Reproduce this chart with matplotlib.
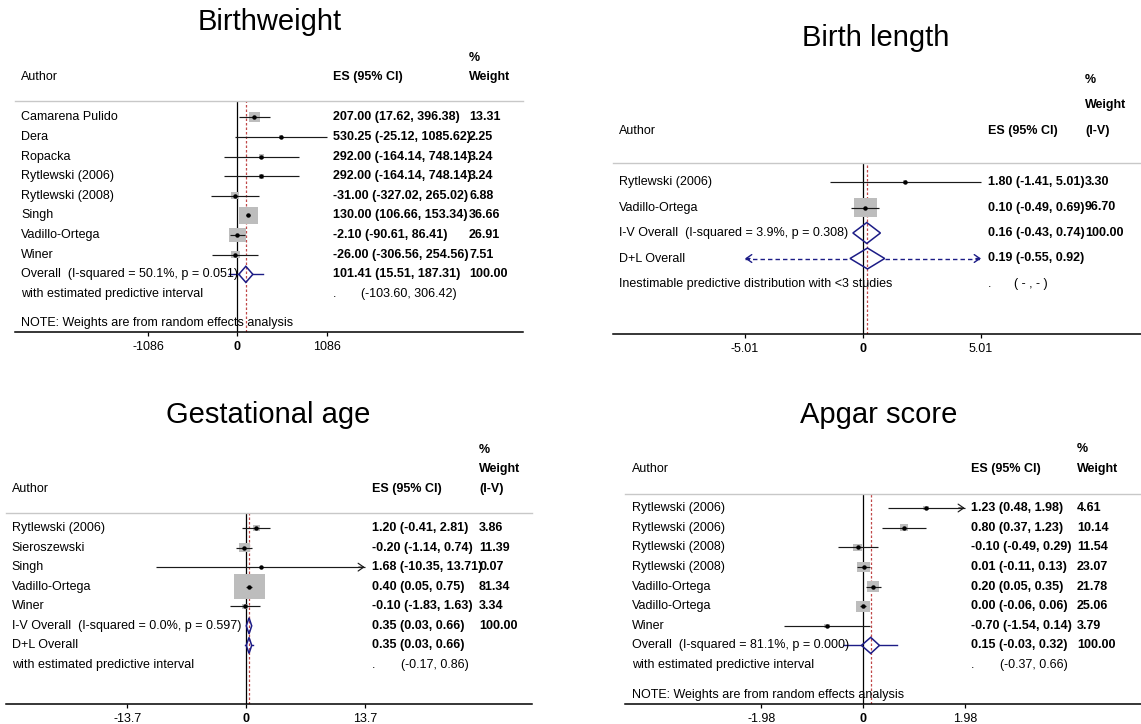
import numpy as np
import matplotlib
matplotlib.use("Agg")
import matplotlib.pyplot as plt
from matplotlib.patches import Rectangle, Polygon
from matplotlib.transforms import blended_transform_factory

plt.rcParams['font.family'] = ['Liberation Sans', 'DejaVu Sans']

# ------------------------------------------------------------------ data
# Birthweight
bw_authors = ["Camarena Pulido", "Dera", "Ropacka", "Rytlewski (2006)", "Rytlewski (2008)",
              "Singh", "Vadillo-Ortega", "Winer"]
bw_es = [207.00, 530.25, 292.00, 292.00, -31.00, 130.00, -2.10, -26.00]
bw_lo = [17.62, -25.12, -164.14, -164.14, -327.02, 106.66, -90.61, -306.56]
bw_hi = [396.38, 1085.62, 748.14, 748.14, 265.02, 153.34, 86.41, 254.56]
bw_wt = [13.31, 2.25, 3.24, 3.24, 6.88, 36.66, 26.91, 7.51]
bw_arrow = [False] * 8
bw_pool_labels = ["Overall  (I-squared = 50.1%, p = 0.051)"]
bw_pool_es = [101.41]
bw_pool_lo = [15.51]
bw_pool_hi = [187.31]
bw_pool_wt = [100.00]
bw_pred_label = "with estimated predictive interval"
bw_pred = [-103.60, 306.42]
bw_ticks = [-1086, 0, 1086]

# Birth length
bl_authors = ["Rytlewski (2006)", "Vadillo-Ortega"]
bl_es = [1.80, 0.10]
bl_lo = [-1.41, -0.49]
bl_hi = [5.01, 0.69]
bl_wt = [3.30, 96.70]
bl_arrow = [False, False]
bl_pool_labels = ["I-V Overall  (I-squared = 3.9%, p = 0.308)", "D+L Overall"]
bl_pool_es = [0.16, 0.19]
bl_pool_lo = [-0.43, -0.55]
bl_pool_hi = [0.74, 0.92]
bl_pool_wt = [100.00, None]
bl_pred_label = "Inestimable predictive distribution with <3 studies"
bl_pred = None
bl_ticks = [-5.01, 0, 5.01]

# Gestational age
ga_authors = ["Rytlewski (2006)", "Sieroszewski", "Singh", "Vadillo-Ortega", "Winer"]
ga_es = [1.20, -0.20, 1.68, 0.40, -0.10]
ga_lo = [-0.41, -1.14, -10.35, 0.05, -1.83]
ga_hi = [2.81, 0.74, 13.71, 0.75, 1.63]
ga_wt = [3.86, 11.39, 0.07, 81.34, 3.34]
ga_arrow = [False, False, True, False, False]
ga_pool_labels = ["I-V Overall  (I-squared = 0.0%, p = 0.597)", "D+L Overall"]
ga_pool_es = [0.35, 0.35]
ga_pool_lo = [0.03, 0.03]
ga_pool_hi = [0.66, 0.66]
ga_pool_wt = [100.00, None]
ga_pred_label = "with estimated predictive interval"
ga_pred = [-0.17, 0.86]
ga_ticks = [-13.7, 0, 13.7]

# Apgar score
ap_authors = ["Rytlewski (2006)", "Rytlewski (2006)", "Rytlewski (2008)", "Rytlewski (2008)",
              "Vadillo-Ortega", "Vadillo-Ortega", "Winer"]
ap_es = [1.23, 0.80, -0.10, 0.01, 0.20, 0.00, -0.70]
ap_lo = [0.48, 0.37, -0.49, -0.11, 0.05, -0.06, -1.54]
ap_hi = [1.98, 1.23, 0.29, 0.13, 0.35, 0.06, 0.14]
ap_wt = [4.61, 10.14, 11.54, 23.07, 21.78, 25.06, 3.79]
ap_arrow = [True, False, False, False, False, False, False]
ap_pool_labels = ["Overall  (I-squared = 81.1%, p = 0.000)"]
ap_pool_es = [0.15]
ap_pool_lo = [-0.03]
ap_pool_hi = [0.32]
ap_pool_wt = [100.00]
ap_pred_label = "with estimated predictive interval"
ap_pred = [-0.37, 0.66]
ap_ticks = [-1.98, 0, 1.98]

note_text = "NOTE: Weights are from random effects analysis"

# ------------------------------------------------------------------ layout
W, H = 1141, 724
fig = plt.figure(figsize=(W / 100, H / 100), dpi=100)
fig.patch.set_facecolor("white")

FS = 9
TITLE_FS = 21
NAVY = "#1c1c86"
GRAY_BOX = "#bdbdbd"
CI_COL = "#1a1a1a"
REF_COL = "#c04848"


def fx(px):
    return px / W


def fy(py):
    return 1 - py / H


def draw_panel(g, title, headers, authors, es, lo, hi, wt, arrow,
               pool_labels, pool_es, pool_lo, pool_hi, pool_wt,
               pred_label, pred, ticks, note):
    L, R, sep, axy = g['L'], g['R'], g['sep'], g['axis']
    ax = fig.add_axes([fx(L), fy(axy), (R - L) / W, (axy - sep) / H])
    ppu = g['ppu']
    ax.set_xlim((L - g['x0']) / ppu, (R - g['x0']) / ppu)
    i_top = (sep - g['first']) / g['sp']
    i_bot = (axy - g['first']) / g['sp']
    ax.set_ylim(i_bot, i_top)
    ax.patch.set_alpha(0)
    for s in ['left', 'right']:
        ax.spines[s].set_visible(False)
    ax.spines['top'].set_color("#c8c8c8")
    ax.spines['top'].set_linewidth(1.0)
    ax.spines['bottom'].set_color("black")
    ax.spines['bottom'].set_linewidth(1.1)
    ax.set_yticks([])
    ax.set_xticks(ticks)
    labels = [("%g" % t) if t != 0 else "0" for t in ticks]
    ax.set_xticklabels(labels, fontsize=FS)
    for lab, t in zip(ax.get_xticklabels(), ticks):
        if t == 0:
            lab.set_fontweight("bold")
    ax.tick_params(axis='x', direction='out', length=3, width=0.9, pad=3.5)

    tmin, tmax = min(ticks), max(ticks)
    tr = blended_transform_factory(fig.transFigure, ax.transData)

    # reference lines
    ax.axvline(0, color="black", lw=0.9, zorder=1)
    ref = pool_es[-1]
    ax.axvline(ref, color=REF_COL, lw=0.9, ls=(0, (2.0, 1.6)), zorder=1)

    k = g['box_k']
    n = len(authors)
    for i in range(n):
        side = k * np.sqrt(wt[i])
        hh = side / g['sp']
        ww = g['stretch'] * side / ppu
        ax.add_patch(Rectangle((es[i] - ww / 2, i - hh / 2), ww, hh,
                               facecolor=GRAY_BOX, edgecolor="none", zorder=2))
        x1 = max(lo[i], tmin)
        x2 = min(hi[i], tmax)
        ax.plot([x1, x2], [i, i], color=CI_COL, lw=0.85, zorder=3,
                solid_capstyle='butt')
        if arrow[i]:
            ax.annotate('', xy=(x2, i), xytext=(x2 - 6 / ppu, i),
                        arrowprops=dict(arrowstyle='->,head_length=0.4,head_width=0.28',
                                        color=CI_COL, lw=0.85, shrinkA=0, shrinkB=0,
                                        mutation_scale=10), zorder=3)
        ax.plot([es[i]], [i], 'o', ms=2.2, color="black", mec="black", zorder=4)
        ax.text(fx(g['ax_author']), i, authors[i], transform=tr, fontsize=FS,
                va='center', ha='left')
        ax.text(fx(g['ax_es']), i, "%.2f (%.2f, %.2f)" % (es[i], lo[i], hi[i]),
                transform=tr, fontsize=FS, va='center', ha='left', fontweight='bold')
        ax.text(fx(g['ax_wt']), i, "%.2f" % wt[i], transform=tr, fontsize=FS,
                va='center', ha='left', fontweight='bold')

    dh = 0.41
    for j in range(len(pool_labels)):
        i = n + j
        is_last = (j == len(pool_labels) - 1)
        if is_last and pred is not None:
            ax.plot([pred[0], pool_lo[j]], [i, i], color=NAVY, lw=1.0, zorder=3)
            ax.plot([pool_hi[j], pred[1]], [i, i], color=NAVY, lw=1.0, zorder=3)
        if is_last and pred is None:
            # inestimable predictive distribution: dashed to the axis limits
            ax.plot([tmin, pool_lo[j]], [i, i], color=NAVY, lw=1.0,
                    ls=(0, (3.2, 2.2)), zorder=3)
            ax.plot([pool_hi[j], tmax], [i, i], color=NAVY, lw=1.0,
                    ls=(0, (3.2, 2.2)), zorder=3)
            for end, sgn in [(tmin, -1), (tmax, 1)]:
                ax.annotate('', xy=(end, i), xytext=(end - sgn * 5 / ppu, i),
                            arrowprops=dict(arrowstyle='->,head_length=0.4,head_width=0.28',
                                            color=NAVY, lw=1.0, shrinkA=0, shrinkB=0,
                                            mutation_scale=10), zorder=3)
        poly = Polygon([(pool_lo[j], i), (pool_es[j], i - dh), (pool_hi[j], i),
                        (pool_es[j], i + dh)], closed=True, facecolor="none",
                       edgecolor=NAVY, lw=1.1, zorder=5)
        ax.add_patch(poly)
        ax.text(fx(g['ax_author']), i, pool_labels[j], transform=tr, fontsize=FS,
                va='center', ha='left')
        ax.text(fx(g['ax_es']), i, "%.2f (%.2f, %.2f)" % (pool_es[j], pool_lo[j], pool_hi[j]),
                transform=tr, fontsize=FS, va='center', ha='left', fontweight='bold')
        if pool_wt[j] is not None:
            ax.text(fx(g['ax_wt']), i, "%.2f" % pool_wt[j], transform=tr, fontsize=FS,
                    va='center', ha='left', fontweight='bold')

    ip = n + len(pool_labels)
    ax.text(fx(g['ax_author']), ip, pred_label, transform=tr, fontsize=FS,
            va='center', ha='left')
    ax.text(fx(g['ax_es']), ip, ".", transform=tr, fontsize=FS, va='center', ha='left')
    ptxt = "( - , - )" if pred is None else "(%.2f, %.2f)" % (pred[0], pred[1])
    ax.text(fx(g['ax_es'] + g['pred_off']), ip, ptxt, transform=tr, fontsize=FS,
            va='center', ha='left')

    if note:
        fig.text(fx(g['ax_author']), fy(g['note_y']), note_text, fontsize=FS,
                 va='center', ha='left')

    fig.text(fx(g['title'][0]), fy(g['title'][1]), title, fontsize=TITLE_FS,
             ha='center', va='center')
    for (txt, bold), (hx, hy) in zip(headers, g['hdr']):
        fig.text(fx(hx), fy(hy), txt, fontsize=FS, ha='left', va='center',
                 fontweight='bold' if bold else 'normal')
    return ax


g_bw = dict(L=14.6, R=523, sep=100.7, axis=332, x0=237.5, ppu=89.1 / 1086,
            first=117.3, sp=19.63, box_k=2.7, stretch=1.18,
            ax_author=21, ax_es=333, ax_wt=469, pred_off=28, note_y=323,
            title=(270, 22),
            hdr=[(469, 58), (21, 77), (333, 77), (469, 77)])
g_bl = dict(L=613, R=1141, sep=162.7, axis=334, x0=863, ppu=118 / 5.01,
            first=182, sp=25.5, box_k=1.9, stretch=1.2,
            ax_author=619, ax_es=988, ax_wt=1085, pred_off=26.5, note_y=None,
            title=(876, 38),
            hdr=[(1085, 80), (1085, 105), (619, 131), (988, 131), (1085, 131)])
g_ga = dict(L=5.5, R=532, sep=513, axis=704, x0=246, ppu=118.7 / 13.7,
            first=528, sp=19.57, box_k=2.8, stretch=1.22,
            ax_author=11.7, ax_es=371.6, ax_wt=479, pred_off=29, note_y=None,
            title=(268, 415),
            hdr=[(479, 450), (479, 469), (11.7, 489), (371.6, 489), (479, 489)])
g_ap = dict(L=625, R=1141, sep=494, axis=704, x0=863, ppu=101.7 / 1.98,
            first=508, sp=19.63, box_k=2.2, stretch=1.2,
            ax_author=632, ax_es=971, ax_wt=1077, pred_off=29, note_y=695,
            title=(879, 415),
            hdr=[(1077, 449), (632, 469), (971, 469), (1077, 469)])

hdr_std = [("%", True), ("Author", False), ("ES (95% CI)", True), ("Weight", True)]
hdr_iv = [("%", True), ("Weight", True), ("Author", False), ("ES (95% CI)", True), ("(I-V)", True)]

draw_panel(g_bw, "Birthweight", hdr_std, bw_authors, bw_es, bw_lo, bw_hi, bw_wt, bw_arrow,
           bw_pool_labels, bw_pool_es, bw_pool_lo, bw_pool_hi, bw_pool_wt,
           bw_pred_label, bw_pred, bw_ticks, True)
draw_panel(g_bl, "Birth length", hdr_iv, bl_authors, bl_es, bl_lo, bl_hi, bl_wt, bl_arrow,
           bl_pool_labels, bl_pool_es, bl_pool_lo, bl_pool_hi, bl_pool_wt,
           bl_pred_label, bl_pred, bl_ticks, False)
draw_panel(g_ga, "Gestational age", hdr_iv, ga_authors, ga_es, ga_lo, ga_hi, ga_wt, ga_arrow,
           ga_pool_labels, ga_pool_es, ga_pool_lo, ga_pool_hi, ga_pool_wt,
           ga_pred_label, ga_pred, ga_ticks, False)
draw_panel(g_ap, "Apgar score", hdr_std, ap_authors, ap_es, ap_lo, ap_hi, ap_wt, ap_arrow,
           ap_pool_labels, ap_pool_es, ap_pool_lo, ap_pool_hi, ap_pool_wt,
           ap_pred_label, ap_pred, ap_ticks, True)

fig.savefig("out.png", dpi=100, facecolor="white")
